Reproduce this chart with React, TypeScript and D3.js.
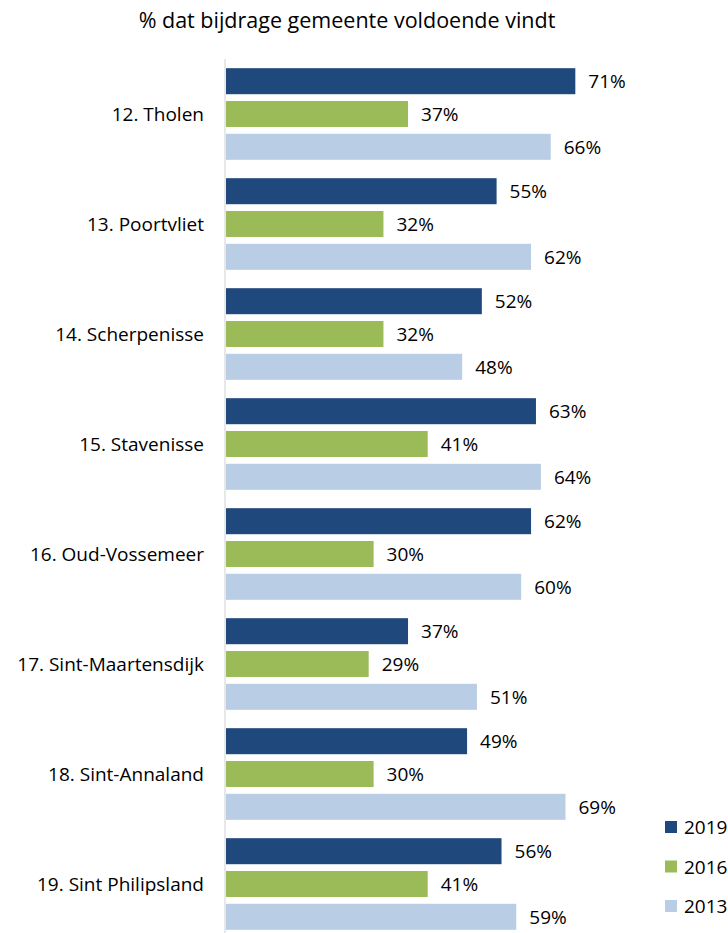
import React from "react";
import * as d3 from "d3";

const title = "% dat bijdrage gemeente voldoende vindt";
const categories = [
  "12. Tholen",
  "13. Poortvliet",
  "14. Scherpenisse",
  "15. Stavenisse",
  "16. Oud-Vossemeer",
  "17. Sint-Maartensdijk",
  "18. Sint-Annaland",
  "19. Sint Philipsland",
];
const seriesNames = ["2019", "2016", "2013"];
const values2019 = [71, 55, 52, 63, 62, 37, 49, 56];
const values2016 = [37, 32, 32, 41, 30, 29, 30, 41];
const values2013 = [66, 62, 48, 64, 60, 51, 69, 59];
const seriesColors = ["#1F497D", "#9BBB59", "#B9CDE5"];

const W = 728;
const H = 933;
const FONT = "'Open Sans', sans-serif";

export default function App() {
  const seriesValues = [values2019, values2016, values2013];
  const x = d3.scaleLinear().domain([0, 100]).range([226, 226 + 492]);
  const y0 = d3.scaleBand<string>().domain(categories).range([59, 939]).paddingInner(0).paddingOuter(0);
  const y1 = d3
    .scaleBand<string>()
    .domain(seriesNames)
    .range([0, y0.bandwidth()])
    .paddingInner(0.207)
    .paddingOuter(0.28);

  return (
    <svg width={W} height={H} style={{ position: "absolute", left: 0, top: 0, background: "#fff" }}>
      <text x={347} y={28} textAnchor="middle" fontFamily={FONT} fontSize={21.5} fill="#000">
        {title}
      </text>
      <line x1={225} x2={225} y1={59} y2={H} stroke="#D9D9D9" strokeWidth={1.2} />
      {categories.map((c, i) => (
        <g key={c} transform={`translate(0,${y0(c)})`}>
          <text
            x={204}
            y={y0.bandwidth() / 2}
            textAnchor="end"
            dominantBaseline="central"
            fontFamily={FONT}
            fontSize={19}
            fill="#000"
          >
            {c}
          </text>
          {seriesNames.map((s, j) => {
            const v = seriesValues[j][i];
            const yy = y1(s)!;
            return (
              <g key={s}>
                <rect x={x(0)} y={yy} width={x(v) - x(0)} height={y1.bandwidth()} fill={seriesColors[j]} />
                <text
                  x={x(v) + 13}
                  y={yy + y1.bandwidth() / 2}
                  dominantBaseline="central"
                  fontFamily={FONT}
                  fontSize={19}
                  fill="#000"
                >
                  {v}%
                </text>
              </g>
            );
          })}
        </g>
      ))}
      {seriesNames.map((s, j) => (
        <g key={s} transform={`translate(665,${821 + j * 39.5})`}>
          <rect x={0} y={0} width={12} height={12} fill={seriesColors[j]} />
          <text x={19} y={6} dominantBaseline="central" fontFamily={FONT} fontSize={19} fill="#000">
            {s}
          </text>
        </g>
      ))}
    </svg>
  );
}
